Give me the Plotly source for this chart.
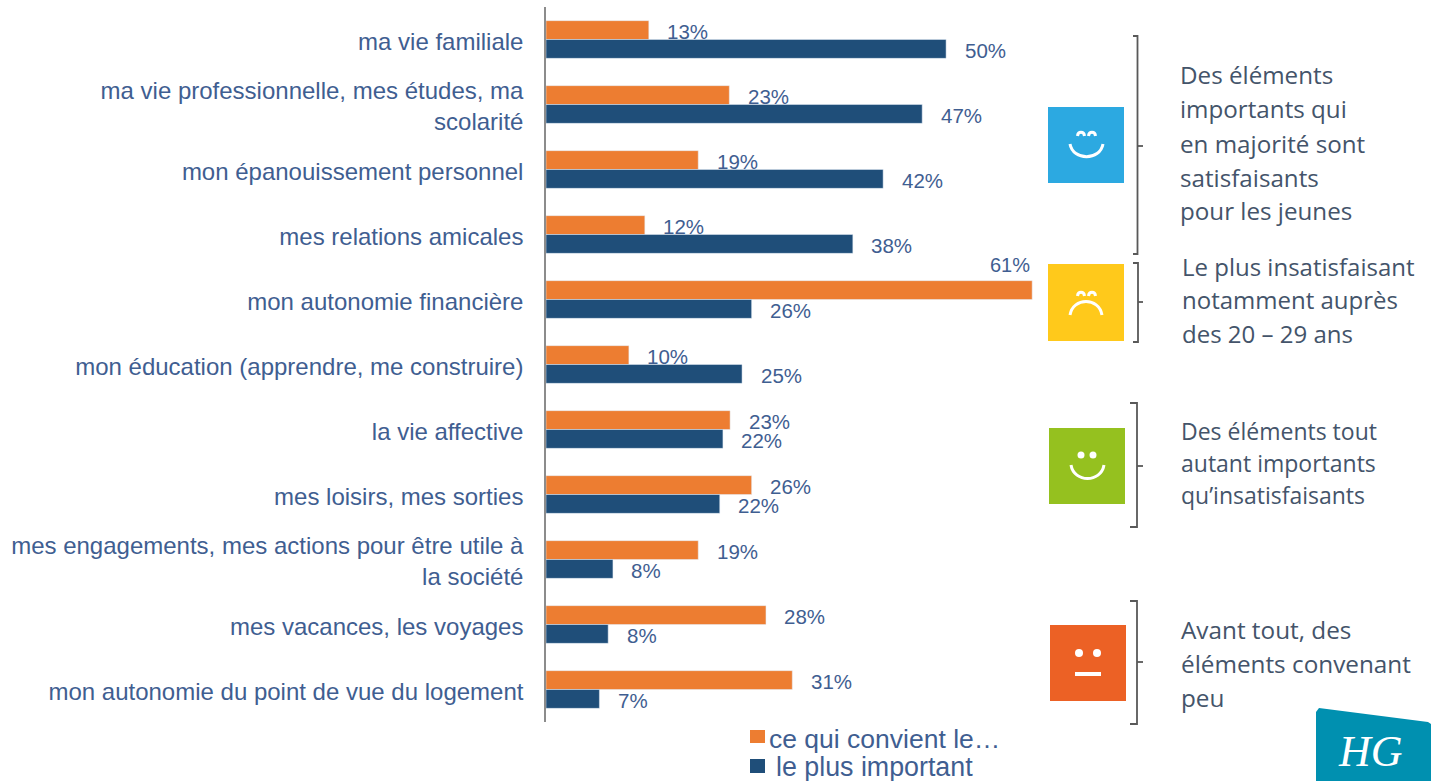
import plotly.graph_objects as go

categories = [
    "ma vie familiale",
    "ma vie professionnelle, mes études, ma<br>scolarité",
    "mon épanouissement personnel",
    "mes relations amicales",
    "mon autonomie financière",
    "mon éducation (apprendre, me construire)",
    "la vie affective",
    "mes loisirs, mes sorties",
    "mes engagements, mes actions pour être utile à<br>la société",
    "mes vacances, les voyages",
    "mon autonomie du point de vue du logement",
]
convient = [12.9, 23.0, 19.1, 12.4, 61.0, 10.4, 23.1, 25.8, 19.1, 27.6, 30.9]
important = [50.2, 47.2, 42.3, 38.5, 25.8, 24.6, 22.2, 21.8, 8.4, 7.8, 6.7]
convient_labels = ["13%", "23%", "19%", "12%", "61%", "10%", "23%", "26%", "19%", "28%", "31%"]
important_labels = ["50%", "47%", "42%", "38%", "26%", "25%", "22%", "22%", "8%", "8%", "7%"]
legend_names = ["ce qui convient le…", "le plus important"]

ORANGE, NAVY = "#ED7D31", "#1F4E79"
LABEL = "#3F5E91"
NOTE = "#44546A"
ARIAL = "Liberation Sans"
NOTE_FONT = "Open Sans"

W, H = 1431, 781
L, R, T, B = 546, 391, 7, 59
PW, PH = W - L - R, H - T - B


def px(x):
    return (x - L) / PW


def py(y):
    return (H - B - y) / PH


def path(*pts):
    return "M" + " L".join(f"{px(x)},{py(y)}" for x, y in pts)


def curve(a, c1, c2, b):
    return (f"M{px(a[0])},{py(a[1])} C{px(c1[0])},{py(c1[1])} "
            f"{px(c2[0])},{py(c2[1])} {px(b[0])},{py(b[1])}")


shapes, annotations = [], []


def rect(x0, y0, x1, y1, color):
    shapes.append(dict(type="rect", xref="paper", yref="paper", x0=px(x0), x1=px(x1),
                       y0=py(y1), y1=py(y0), fillcolor=color, line_width=0, layer="above"))


def dot(cx, cy, r):
    shapes.append(dict(type="circle", xref="paper", yref="paper", x0=px(cx - r), x1=px(cx + r),
                       y0=py(cy + r), y1=py(cy - r), fillcolor="white", line_width=0))


def stroke(d, color="white", width=3):
    shapes.append(dict(type="path", xref="paper", yref="paper", path=d,
                       line=dict(color=color, width=width)))


def text(x, y, s, size, color, family, anchor="left", **kw):
    annotations.append(dict(xref="paper", yref="paper", x=px(x), y=py(y), text=s, showarrow=False,
                            xanchor=anchor, yanchor="middle", align=anchor,
                            font=dict(size=size, color=color, family=family), **kw))


fig = go.Figure()
fig.add_bar(y=categories, x=convient, orientation="h", marker_color=ORANGE,
            name=legend_names[0], showlegend=False)
fig.add_bar(y=categories, x=important, orientation="h", marker_color=NAVY,
            name=legend_names[1], showlegend=False)

# value labels, attached to the data
for i, cat in enumerate(categories):
    if convient_labels[i] == "61%":
        annotations.append(dict(x=convient[i], y=cat, xref="x", yref="y", text=convient_labels[i],
                                showarrow=False, xanchor="right", yanchor="middle", yshift=35,
                                font=dict(size=20, color=LABEL, family=ARIAL)))
    else:
        annotations.append(dict(x=convient[i], y=cat, xref="x", yref="y", text=convient_labels[i],
                                showarrow=False, xanchor="left", yanchor="middle", xshift=16.5, yshift=8,
                                font=dict(size=20.5, color=LABEL, family=ARIAL)))
    annotations.append(dict(x=important[i], y=cat, xref="x", yref="y", text=important_labels[i],
                            showarrow=False, xanchor="left", yanchor="middle", xshift=16.5, yshift=-11,
                            font=dict(size=20.5, color=LABEL, family=ARIAL)))

# legend
rect(750, 730, 765, 743, ORANGE)
rect(750, 759, 765, 773, NAVY)
text(767, 739, legend_names[0], 26.5, LABEL, ARIAL)
text(774, 767, legend_names[1], 26.8, LABEL, ARIAL)

# brackets
for top, mid, bottom, xv, xl in [(36, 146, 254, 1137.5, 1133), (263, 302, 342, 1138, 1133),
                                 (403, 466, 527, 1137, 1130), (601, 662, 724, 1137, 1130)]:
    stroke(path((xl, top), (xv, top), (xv, bottom), (xl, bottom)), "#595959", 1.8)
    stroke(path((xv, mid), (1143, mid)), "#595959", 1.8)

# faces
rect(1048, 107, 1124, 183, "#2CA9E1")
stroke(curve((1070, 144), (1073, 161), (1100, 161), (1103, 144)))
for cx in (1081, 1092):
    stroke(curve((cx - 3.5, 136), (cx - 3, 131), (cx + 3, 131), (cx + 3.5, 136)))

rect(1048, 264, 1124, 341, "#FFC91B")
stroke(curve((1070, 315), (1073, 297), (1099, 297), (1102, 315)))
for cx in (1081, 1092):
    stroke(curve((cx - 3.5, 296), (cx - 3, 291), (cx + 3, 291), (cx + 3.5, 296)))

rect(1049, 428, 1125, 504, "#95C11F")
stroke(curve((1071, 465), (1074, 483), (1101, 483), (1104, 465)))
dot(1081, 455, 3.5)
dot(1093, 455, 3.5)

rect(1050, 625, 1126, 701, "#EC6125")
dot(1079, 653, 4)
dot(1097, 653, 4)
stroke(path((1075, 674), (1101, 674)), "white", 4)

# notes
notes = [
    (1178, 24.2, [75, 109, 143, 177, 211],
     ["Des éléments", "importants qui", "en majorité sont", "satisfaisants", "pour les jeunes"]),
    (1180, 24, [266, 299, 333], ["Le plus insatisfaisant", "notamment auprès", "des 20 – 29 ans"]),
    (1179, 23, [431, 463, 495], ["Des éléments tout", "autant importants", "qu’insatisfaisants"]),
    (1179, 24.3, [629, 663, 697], ["Avant tout, des", "éléments convenant", "peu"]),
]
for x, size, ys, lines in notes:
    for y, line in zip(ys, lines):
        text(x, y, line, size, NOTE, NOTE_FONT)

# logo
shapes.append(dict(type="path", xref="paper", yref="paper", fillcolor="#0090B0", line_width=0,
                   path=path((1316, 712), (1319, 708), (1428, 722), (1431, 724), (1431, 790),
                             (1316, 790)) + " Z"))
text(1370, 752, "<i>HG</i>", 44, "white", "Liberation Serif", anchor="center")

fig.update_layout(
    width=W, height=H, margin=dict(l=L, r=R, t=T, b=B, autoexpand=False),
    paper_bgcolor="white", plot_bgcolor="white",
    barmode="group", bargap=0.42, bargroupgap=0, showlegend=False,
    shapes=shapes, annotations=annotations,
    xaxis=dict(range=[0, PW / 7.97], visible=False, fixedrange=True),
    yaxis=dict(type="category", categoryorder="array", categoryarray=categories,
               range=[len(categories) - 0.5, -0.5], showgrid=False, showline=True,
               linecolor="#8C8C8C", linewidth=1.5, ticks="", ticklabelstandoff=16, ticklabelshift=-2,
               tickfont=dict(family=ARIAL, size=24, color=LABEL), fixedrange=True),
)

fig.write_html("out.html", config=dict(displayModeBar=False),
               post_script="document.body.style.margin='0';document.body.style.overflow='hidden';")
